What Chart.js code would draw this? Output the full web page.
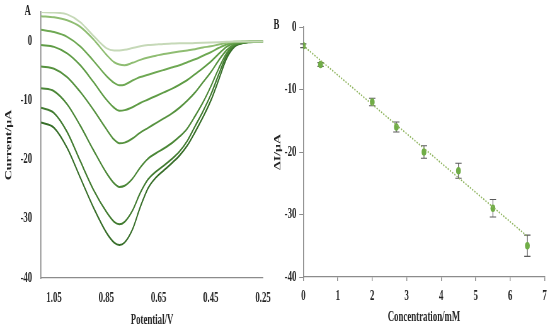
<!DOCTYPE html>
<html>
<head>
<meta charset="utf-8">
<script src="https://cdn.jsdelivr.net/npm/chart.js@4/dist/chart.umd.min.js"></script>
<style>
body { margin: 0; background: #fff; overflow: hidden; }
/* whole figure is drawn wide and squeezed, like the original narrow lettering */
#wrap { position: absolute; left: 0; top: 0; width: 873px; height: 329px; transform: scaleX(0.63); transform-origin: 0 0; }
canvas { position: absolute; top: 0; }
#chartA { left: 0; }
#chartB { left: 428.6px; }
.tag { position: absolute; font: bold 14px "Liberation Serif", serif; color: #222; line-height: 1; }
</style>
</head>
<body>
<div id="wrap">
  <canvas id="chartA" width="440" height="329"></canvas>
  <canvas id="chartB" width="445" height="329"></canvas>
  <span class="tag" style="left:39px; top:4px;">A</span>
  <span class="tag" style="left:434px; top:18px;">B</span>
</div>
<script>
// panel A: voltammograms
var potential = [1.10, 1.05, 1.00, 0.95, 0.90, 0.85, 0.82, 0.80, 0.78, 0.75, 0.72, 0.69, 0.66, 0.63, 0.60, 0.57, 0.54, 0.51, 0.48, 0.45, 0.42, 0.39, 0.36, 0.33, 0.30, 0.25];
var scan1 = [5.0, 4.9, 4.6, 3.3, 1.0, -1.1, -1.5, -1.5, -1.4, -1.1, -0.8, -0.6, -0.5, -0.4, -0.35, -0.3, -0.3, -0.25, -0.2, -0.15, -0.1, -0.05, 0, 0, 0, 0];
var scan2 = [4.3, 4.1, 3.6, 2.5, 0.4, -2.2, -3.5, -3.9, -4.0, -3.6, -3.1, -2.7, -2.4, -2.1, -1.9, -1.7, -1.5, -1.3, -1.0, -0.8, -0.5, -0.2, -0.05, 0, 0, 0];
var scan3 = [2.0, 1.6, 0.8, -0.8, -3.2, -5.8, -7.0, -7.4, -7.3, -6.6, -6.0, -5.6, -5.2, -4.8, -4.4, -4.0, -3.5, -3.0, -2.4, -1.8, -1.1, -0.5, -0.15, -0.05, 0, 0];
var scan4 = [-0.6, -0.9, -2.0, -4.0, -6.8, -9.8, -11.2, -11.7, -11.6, -11.1, -10.4, -9.8, -9.2, -8.6, -8.0, -7.3, -6.5, -5.5, -4.5, -3.4, -2.1, -0.9, -0.3, -0.1, 0, 0];
var scan5 = [-4.2, -4.6, -6.0, -8.5, -11.5, -14.8, -16.6, -17.2, -17.1, -16.4, -15.4, -14.6, -13.8, -13.0, -12.2, -11.2, -10.0, -8.6, -6.9, -5.2, -3.2, -1.5, -0.5, -0.15, -0.05, 0];
var scan6 = [-7.9, -8.4, -10.6, -14.2, -18.3, -22.2, -24.0, -24.6, -24.4, -23.2, -21.3, -19.8, -18.9, -18.1, -17.2, -16.1, -14.7, -12.6, -10.3, -7.6, -4.6, -2.0, -0.6, -0.2, -0.05, 0];
var scan7 = [-11.2, -12.1, -15.3, -20.2, -25.0, -28.8, -30.5, -30.9, -30.5, -28.6, -25.6, -23.3, -22.0, -21.0, -19.9, -18.6, -16.8, -14.3, -11.8, -9.0, -5.6, -2.4, -0.7, -0.25, -0.05, 0];
var scan8 = [-13.7, -14.6, -18.0, -23.0, -28.0, -32.3, -34.0, -34.4, -34.0, -31.8, -28.0, -24.8, -23.0, -21.8, -20.6, -19.3, -17.6, -15.3, -12.8, -10.0, -6.5, -2.9, -0.9, -0.3, -0.1, 0];
var potentialTicks = [1.05, 0.85, 0.65, 0.45, 0.25];
var currentTicks = [0, -10, -20, -30, -40];

// panel B: calibration
var concentration = [0, 0.5, 2, 2.7, 3.5, 4.5, 5.5, 6.5];
var deltaI = [-3, -6, -12, -16, -20, -23, -29, -35];
var deltaIErr = [0.3, 0.3, 0.6, 0.8, 1.0, 1.2, 1.4, 1.7];
var fitX = [0, 6.5];
var fitY = [-3.0, -33.5];

var scans = [scan1, scan2, scan3, scan4, scan5, scan6, scan7, scan8];
var scanColors = ['#c6d9b8', '#8fbd72', '#6ea853', '#5f9c46', '#56923f', '#4b8737', '#417b30', '#376e29'];

var font = { family: '"Liberation Serif", serif', size: 14, weight: 'bold' };
var textColor = '#262626';
var axisColor = '#8c8c8c';

function pairs(xs, ys) {
    return xs.map(function (x, i) { return { x: x, y: ys[i] }; });
}

var ctxA = document.getElementById('chartA').getContext('2d');
var chartA = new Chart(ctxA, {
    type: 'line',
    data: {
        datasets: scans.map(function (s, i) {
            return {
                data: pairs(potential, s),
                borderColor: scanColors[i],
                borderWidth: 2,
                pointRadius: 0,
                fill: false,
                cubicInterpolationMode: 'monotone'
            };
        })
    },
    options: {
        responsive: false,
        animation: false,
        layout: { padding: { top: 12, right: 22.5, left: 0, bottom: 0 } },
        plugins: { legend: { display: false }, tooltip: { enabled: false } },
        scales: {
            x: {
                type: 'linear', reverse: true, min: 0.25, max: 1.1,
                afterBuildTicks: function (s) { s.ticks = potentialTicks.map(function (v) { return { value: v }; }); },
                ticks: { callback: function (v) { return v.toFixed(2); }, font: font, color: textColor, padding: 12, maxRotation: 0, autoSkip: false },
                grid: { display: false, drawTicks: false },
                border: { color: axisColor, width: 1.2 },
                title: { display: true, text: 'Potential/V', font: font, color: textColor, padding: { top: 0, bottom: 0 } },
                afterFit: function (s) { s.height = 51; s.paddingLeft = 0; s.paddingRight = 0; }
            },
            y: {
                min: -40, max: 5,
                afterBuildTicks: function (s) { s.ticks = currentTicks.map(function (v) { return { value: v }; }); },
                ticks: { font: font, color: textColor, padding: 14 },
                grid: { display: false, drawTicks: false },
                border: { color: axisColor, width: 1.6 },
                title: { display: true, text: 'Current/μA', font: font, color: textColor, padding: { top: 5.9, bottom: 0 } },
                afterFit: function (s) { s.width = 65.1; s.paddingTop = 0; s.paddingBottom = 0; }
            }
        }
    }
});

var errorBars = {
    id: 'errorBars',
    beforeDatasetsDraw: function (chart) {
        var c = chart.ctx, xs = chart.scales.x, ys = chart.scales.y;
        c.save();
        c.strokeStyle = '#5a5a5a';
        c.lineWidth = 1.2;
        concentration.forEach(function (v, i) {
            var x = xs.getPixelForValue(v);
            var top = ys.getPixelForValue(deltaI[i] + deltaIErr[i]);
            var bot = ys.getPixelForValue(deltaI[i] - deltaIErr[i]);
            c.beginPath();
            c.moveTo(x, top); c.lineTo(x, bot);
            c.moveTo(x - 5, top); c.lineTo(x + 5, top);
            c.moveTo(x - 5, bot); c.lineTo(x + 5, bot);
            c.stroke();
        });
        c.restore();
    }
};

var ctxB = document.getElementById('chartB').getContext('2d');
var chartB = new Chart(ctxB, {
    type: 'scatter',
    data: {
        datasets: [
            {
                type: 'line',
                data: pairs(fitX, fitY),
                borderColor: '#8db35c',
                borderWidth: 1.6,
                borderDash: [2, 2],
                pointRadius: 0,
                fill: false
            },
            {
                data: pairs(concentration, deltaI),
                backgroundColor: '#70ad47',
                borderColor: '#70ad47',
                pointRadius: 3.8,
                pointBorderWidth: 0
            }
        ]
    },
    options: {
        responsive: false,
        animation: false,
        layout: { padding: { top: 27, right: 9.5, left: 0, bottom: 0 } },
        plugins: { legend: { display: false }, tooltip: { enabled: false } },
        scales: {
            x: {
                type: 'linear', min: 0, max: 7,
                ticks: { stepSize: 1, font: font, color: textColor, padding: 7, maxRotation: 0 },
                grid: { display: true, drawOnChartArea: false, drawTicks: true, tickLength: 4, color: axisColor, lineWidth: 1.4 },
                border: { color: axisColor, width: 1.2 },
                title: { display: true, text: 'Concentration/mM', font: font, color: textColor, padding: { top: 0, bottom: 3.6 } },
                afterFit: function (s) { s.height = 52; s.paddingLeft = 0; s.paddingRight = 0; }
            },
            y: {
                min: -40, max: 0,
                ticks: { stepSize: 10, font: font, color: textColor, padding: 4.7 },
                grid: { display: true, drawOnChartArea: false, drawTicks: true, tickLength: 6.3, color: axisColor },
                border: { color: axisColor, width: 1.6 },
                title: { display: true, text: 'ΔI/μA', font: font, color: textColor, padding: { top: 4.3, bottom: 0 } },
                afterFit: function (s) { s.width = 52.4; s.paddingTop = 0; s.paddingBottom = 0; }
            }
        }
    },
    plugins: [errorBars]
});
</script>
</body>
</html>
